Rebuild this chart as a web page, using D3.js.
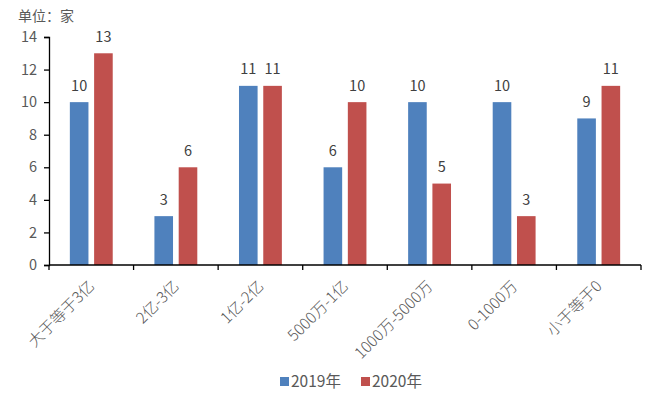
<!DOCTYPE html>
<html><head><meta charset="utf-8">
<script src="https://cdn.jsdelivr.net/npm/d3@7"></script>
<style>
body{margin:0;background:#fff;}
text{font-family:"Noto Sans CJK SC","Noto Sans",sans-serif;}
</style></head>
<body><svg id="c" width="657" height="400"></svg>
<script>
const categories = ["大于等于3亿","2亿-3亿","1亿-2亿","5000万-1亿","1000万-5000万","0-1000万","小于等于0"];
const seriesNames = ["2019年","2020年"];
const values2019 = [10,3,11,6,10,10,9];
const values2020 = [13,6,11,10,5,3,11];
const yTicks = [0,2,4,6,8,10,12,14];
const colors = ["#4F81BD","#C0504D"];

(function(){
const svg = d3.select("#c");
const mLeft = 49, mRight = 641, mTop = 37, mBottom = 265;
const x = d3.scaleBand().domain(categories).range([mLeft,mRight]).padding(0);
const y = d3.scaleLinear().domain([0,14]).range([mBottom,mTop]);
const step = x.step();
const bw = step*0.22, gap = step*0.067;

const series = [values2019, values2020];

// y axis
const ya = svg.append("g").attr("transform",`translate(${mLeft},0)`)
  .call(d3.axisLeft(y).tickValues(yTicks).tickSize(5).tickPadding(7).tickFormat(d3.format("d")));
ya.select(".domain").attr("stroke","#000").attr("stroke-width",1.3);
ya.selectAll(".tick line").attr("stroke","#000").attr("stroke-width",1.3);
ya.selectAll(".tick text").attr("fill","#595959").attr("font-size",14.5).attr("font-family","'Noto Sans CJK SC',sans-serif");

// bars
series.forEach((vals,si)=>{
  svg.append("g").selectAll("rect").data(vals).join("rect")
    .attr("x",(d,i)=>x(categories[i])+step/2 + (si===0 ? -gap/2-bw : gap/2))
    .attr("y",d=>y(d)).attr("width",bw).attr("height",d=>y(0)-y(d))
    .attr("fill",colors[si]);
  svg.append("g").selectAll("text").data(vals).join("text")
    .attr("x",(d,i)=>x(categories[i])+step/2 + (si===0 ? -gap/2-bw/2 : gap/2+bw/2))
    .attr("y",d=>y(d)-11.5).attr("text-anchor","middle")
    .attr("fill","#404040").attr("font-size",14.5).text(d=>d);
});

// x axis
const xTickPos = d3.range(categories.length+1).map(i=>mLeft+i*step);
svg.append("line").attr("x1",mLeft).attr("x2",mRight).attr("y1",mBottom).attr("y2",mBottom)
  .attr("stroke","#000").attr("stroke-width",1.3);
svg.append("g").selectAll("line").data(xTickPos).join("line")
  .attr("x1",d=>d).attr("x2",d=>d).attr("y1",mBottom).attr("y2",mBottom+5)
  .attr("stroke","#000").attr("stroke-width",1.3);
svg.append("g").selectAll("text").data(categories).join("text")
  .attr("transform",d=>`translate(${x(d)+step/2-4},${mBottom+14}) rotate(-45)`)
  .attr("text-anchor","end").attr("dy","0.75em")
  .attr("fill","#595959").attr("font-size",15.5).attr("font-weight",300).text(d=>d);

// unit label
svg.append("text").attr("x",18).attr("y",21).attr("fill","#595959").attr("font-size",14).text("单位：家");

// legend
const lg = svg.append("g");
const lx = [280,361];
seriesNames.forEach((n,i)=>{
  lg.append("rect").attr("x",lx[i]).attr("y",377).attr("width",9).attr("height",9).attr("fill",colors[i]);
  lg.append("text").attr("x",lx[i]+11).attr("y",387).attr("fill","#595959").attr("font-size",15.5).text(n);
});
})();
</script></body></html>
